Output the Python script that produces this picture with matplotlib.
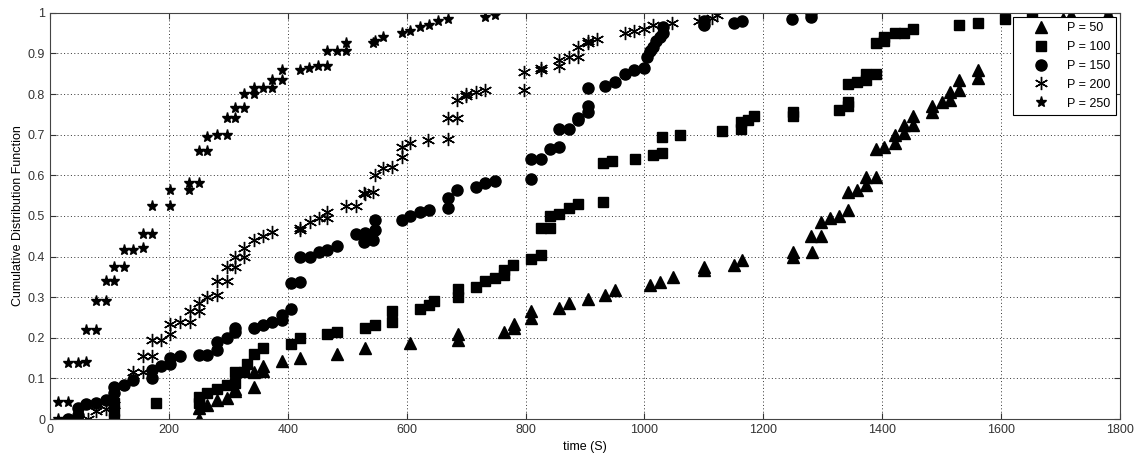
import numpy as np
import matplotlib.pyplot as plt

plt.rcParams['font.family'] = ['Liberation Sans', 'DejaVu Sans']

# P = 50 (triangles)
x50 = [250, 250, 264, 281, 298, 312, 312, 343, 343, 358, 358, 390, 420, 482, 530,
       606, 686, 686, 764, 780, 780, 810, 810, 857, 873, 905, 934, 950,
       1010, 1026, 1049, 1100, 1100, 1150, 1165, 1250, 1250, 1282,
       1281, 1297, 1297, 1312, 1327, 1342, 1342, 1358, 1373, 1373, 1390,
       1390, 1404, 1421, 1421, 1437, 1437, 1452, 1452,
       1484, 1484, 1500, 1515, 1515, 1530, 1530, 1561, 1561, 1704, 1718, 1780]
y50 = [0.0, 0.028, 0.035, 0.048, 0.052, 0.068, 0.075, 0.08, 0.115, 0.118, 0.13, 0.142, 0.15, 0.16, 0.175,
       0.187, 0.195, 0.21, 0.215, 0.225, 0.235, 0.25, 0.265, 0.273, 0.285, 0.295, 0.305, 0.318,
       0.33, 0.338, 0.35, 0.367, 0.375, 0.38, 0.392, 0.40, 0.41, 0.41,
       0.45, 0.45, 0.485, 0.495, 0.50, 0.515, 0.56, 0.565, 0.575, 0.595, 0.595,
       0.665, 0.67, 0.68, 0.70, 0.705, 0.725, 0.725, 0.745,
       0.755, 0.77, 0.78, 0.785, 0.805, 0.81, 0.835, 0.84, 0.86, 0.985, 0.995, 0.998]

# P = 100 (squares)
x100 = [108, 108, 108, 179, 250, 250, 264, 281, 298, 312, 312, 327, 332, 343, 358,
        405, 420, 466, 482, 530, 546, 575, 575, 622, 638, 646, 686, 686,
        716, 732, 748, 763, 763, 779, 810, 826, 826, 842, 842, 857, 873, 889,
        930, 930, 945, 984, 1014, 1030, 1030, 1060, 1130, 1162, 1162, 1175, 1185,
        1250, 1250, 1327, 1342, 1342, 1342, 1357, 1373, 1373, 1390,
        1390, 1404, 1404, 1421, 1437, 1452, 1530, 1561, 1607, 1653]
y100 = [0.0, 0.02, 0.04, 0.04, 0.04, 0.055, 0.065, 0.075, 0.085, 0.09, 0.117, 0.117, 0.135, 0.16, 0.175,
        0.185, 0.2, 0.21, 0.215, 0.225, 0.232, 0.24, 0.265, 0.27, 0.28, 0.29, 0.30, 0.32,
        0.325, 0.34, 0.347, 0.355, 0.367, 0.38, 0.395, 0.405, 0.47, 0.47, 0.50, 0.505, 0.52, 0.53,
        0.535, 0.63, 0.635, 0.64, 0.65, 0.655, 0.695, 0.70, 0.71, 0.715, 0.73, 0.735, 0.745,
        0.745, 0.755, 0.76, 0.77, 0.78, 0.825, 0.83, 0.835, 0.85, 0.85,
        0.925, 0.93, 0.94, 0.95, 0.95, 0.96, 0.97, 0.975, 0.985, 0.995]

# P = 150 (circles)
x150 = [31, 47, 47, 61, 78, 94, 108, 108, 125, 140, 171, 171, 187, 201, 201, 218,
        250, 264, 281, 281, 298, 312, 312, 343, 358, 373, 390, 390, 405,
        405, 420, 420, 437, 452, 466, 482, 514, 530, 546, 546,
        529, 544, 592, 606, 622, 638, 669, 669, 684, 716, 732, 749,
        810, 810, 826, 842, 857, 857, 873, 889, 889, 905, 905, 905,
        934, 950, 967, 983, 1000, 1004, 1010, 1015, 1019, 1027, 1032, 1032,
        1100, 1100, 1150, 1165, 1249, 1280, 1280]
y150 = [0.0, 0.01, 0.027, 0.036, 0.04, 0.048, 0.064, 0.08, 0.085, 0.097, 0.10, 0.12, 0.13, 0.135, 0.15, 0.155,
        0.158, 0.158, 0.17, 0.19, 0.20, 0.215, 0.225, 0.225, 0.232, 0.24, 0.245, 0.255, 0.272,
        0.335, 0.337, 0.40, 0.40, 0.41, 0.417, 0.425, 0.455, 0.458, 0.465, 0.49,
        0.437, 0.44, 0.49, 0.50, 0.51, 0.515, 0.52, 0.545, 0.565, 0.57, 0.58, 0.585,
        0.59, 0.64, 0.64, 0.665, 0.67, 0.715, 0.715, 0.735, 0.74, 0.755, 0.77, 0.815,
        0.82, 0.83, 0.85, 0.86, 0.865, 0.89, 0.905, 0.915, 0.93, 0.94, 0.95, 0.965,
        0.97, 0.98, 0.975, 0.98, 0.985, 0.99, 1.0]

# P = 200 (asterisks)
x200 = [63, 78, 94, 108, 140, 156, 156, 171, 171, 187, 201, 201, 218, 235, 235, 250,
        250, 264, 281, 281, 298, 298, 312, 312, 327, 327, 343, 358, 374,
        420, 420, 437, 452, 466, 466, 498, 514, 529, 530, 544, 546, 560, 575, 592, 592, 606,
        636, 669, 669, 684, 684, 700, 700, 716, 732, 797, 797, 826, 826,
        857, 857, 873, 889, 889, 905, 905, 920, 967, 983, 1000, 1014, 1047, 1092, 1114, 1122]
y200 = [0.0, 0.02, 0.025, 0.035, 0.115, 0.115, 0.155, 0.155, 0.195, 0.195, 0.21, 0.235, 0.24, 0.24, 0.265, 0.265,
        0.285, 0.30, 0.305, 0.34, 0.34, 0.375, 0.375, 0.40, 0.40, 0.42, 0.44, 0.45, 0.46,
        0.465, 0.47, 0.485, 0.495, 0.495, 0.51, 0.525, 0.525, 0.557, 0.555, 0.56, 0.60, 0.617, 0.62, 0.646, 0.67, 0.68,
        0.687, 0.69, 0.74, 0.74, 0.785, 0.795, 0.80, 0.805, 0.81, 0.81, 0.855, 0.86, 0.865,
        0.87, 0.885, 0.89, 0.89, 0.915, 0.925, 0.93, 0.935, 0.95, 0.955, 0.96, 0.97, 0.975, 0.98, 0.987, 0.995]

# P = 250 (stars)
x250 = [14, 14, 31, 31, 47, 61, 61, 78, 78, 94, 94, 108, 108, 125, 125, 140, 156,
        156, 171, 171, 201, 201, 233, 233, 250, 250, 264, 264, 281, 298, 298, 312, 312, 327,
        327, 343, 343, 358, 373, 373, 390, 390, 420, 435, 450, 466, 466, 482, 498, 498,
        546, 544, 560, 592, 606, 622, 638, 653, 669, 732, 749, 1780]
y250 = [0.0, 0.043, 0.043, 0.137, 0.138, 0.14, 0.22, 0.22, 0.29, 0.29, 0.34, 0.34, 0.375, 0.375, 0.415, 0.415, 0.42,
        0.455, 0.455, 0.525, 0.525, 0.565, 0.565, 0.58, 0.58, 0.66, 0.66, 0.695, 0.70, 0.70, 0.74, 0.74, 0.765, 0.765,
        0.80, 0.80, 0.815, 0.815, 0.815, 0.835, 0.835, 0.86, 0.86, 0.865, 0.87, 0.87, 0.905, 0.905, 0.905, 0.925,
        0.93, 0.925, 0.94, 0.95, 0.955, 0.965, 0.97, 0.98, 0.985, 0.99, 0.995, 0.998]

fig = plt.figure(figsize=(11.38, 4.57), dpi=100)
ax = fig.add_axes([0.044, 0.083, 0.940, 0.889])

ax.plot(x50, y50, '^', color='k', ms=8.5, label='P = 50')
ax.plot(x100, y100, 's', color='k', ms=7.5, label='P = 100')
ax.plot(x150, y150, 'o', color='k', ms=8, label='P = 150')
ax.plot(x200, y200, ls='none', marker=(6, 2, 0), color='k', ms=9.5, mew=1, label='P = 200')
ax.plot(x250, y250, '*', color='k', ms=8, label='P = 250')

ax.set_xlim(0, 1800)
ax.set_ylim(0, 1)
ax.set_xticks(np.arange(0, 1801, 200))
ax.set_yticks(np.arange(0, 1.01, 0.1))
ax.set_yticklabels(['0', '0.1', '0.2', '0.3', '0.4', '0.5', '0.6', '0.7', '0.8', '0.9', '1'])
ax.tick_params(direction='in', labelsize=9, length=4, colors='#333333', top=True, right=True,
               labeltop=False, labelright=False)
ax.grid(True, ls=(0, (1, 2.5)), color='#333333', lw=0.7)
for s in ax.spines.values():
    s.set_color('#444444')

ax.set_xlabel('time (S)', fontsize=9, labelpad=4)
ax.set_ylabel('Cumulative Distribution Function', fontsize=9, labelpad=3)

leg = ax.legend(loc='upper right', fontsize=9, fancybox=False, framealpha=1,
                edgecolor='k', borderaxespad=0.3, handlelength=3.6, handletextpad=0.3,
                labelspacing=0.55, borderpad=0.45)
leg.get_frame().set_linewidth(0.8)

fig.savefig('out.png', dpi=100)
